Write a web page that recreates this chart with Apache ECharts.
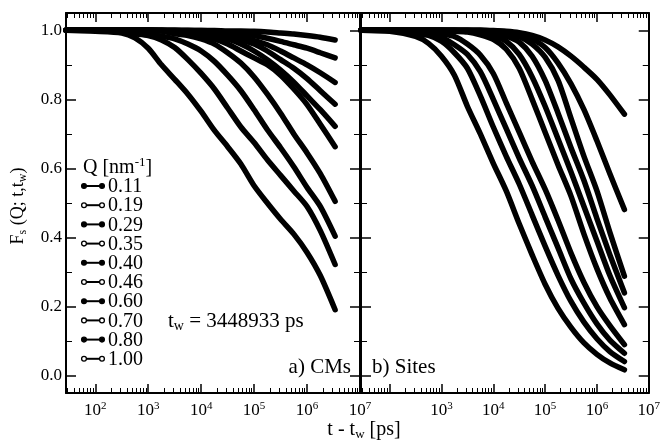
<!DOCTYPE html>
<html><head><meta charset="utf-8">
<script src="https://cdn.jsdelivr.net/npm/echarts@6/dist/echarts.min.js"></script>
<style>html,body{margin:0;padding:0;background:#fff}#c{width:663px;height:440px}</style>
</head><body><div id="c"></div>
<script>
// sampling times t - t_w [ps]
const tPs = [28, 100, 316, 562, 1000, 1778, 3162, 5623, 10000, 17783, 31623, 56234, 100000, 177828, 316228, 562341, 1000000, 1778279, 3388442];
const qLabels = ['0.11', '0.19', '0.29', '0.35', '0.40', '0.46', '0.60', '0.70', '0.80', '1.00'];
const qFilled = [true, false, true, false, true, false, true, false, true, false];

// a) CMs
const cm011 = [1, 1, 1, 1, 1, 1, 1, 1, 0.999, 0.999, 0.998, 0.998, 0.997, 0.995, 0.992, 0.989, 0.985, 0.98, 0.972];
const cm019 = [1, 1, 1, 1, 1, 1, 1, 0.999, 0.999, 0.998, 0.995, 0.99, 0.985, 0.977, 0.968, 0.958, 0.948, 0.935, 0.92];
const cm029 = [1, 1, 1, 1, 1, 1, 0.999, 0.998, 0.997, 0.994, 0.99, 0.98, 0.97, 0.958, 0.94, 0.92, 0.9, 0.877, 0.849];
const cm035 = [1, 1, 1, 1, 1, 0.999, 0.998, 0.997, 0.995, 0.99, 0.985, 0.973, 0.96, 0.94, 0.915, 0.89, 0.86, 0.825, 0.786];
const cm040 = [1, 1, 1, 1, 1, 0.999, 0.998, 0.995, 0.99, 0.983, 0.975, 0.96, 0.94, 0.915, 0.885, 0.85, 0.81, 0.77, 0.722];
const cm046 = [1, 1, 1, 1, 1, 0.998, 0.995, 0.99, 0.985, 0.975, 0.96, 0.94, 0.92, 0.9, 0.87, 0.83, 0.785, 0.728, 0.663];
const cm060 = [1, 1, 1, 1, 1, 0.998, 0.99, 0.985, 0.975, 0.96, 0.935, 0.905, 0.865, 0.815, 0.76, 0.7, 0.645, 0.585, 0.505];
const cm070 = [1, 1, 0.997, 0.995, 0.99, 0.983, 0.975, 0.96, 0.94, 0.91, 0.87, 0.825, 0.77, 0.712, 0.66, 0.605, 0.545, 0.49, 0.404];
const cm080 = [1, 0.999, 0.995, 0.99, 0.985, 0.972, 0.95, 0.915, 0.875, 0.83, 0.775, 0.72, 0.675, 0.625, 0.58, 0.535, 0.49, 0.42, 0.322];
const cm100 = [1, 0.997, 0.992, 0.978, 0.948, 0.9, 0.858, 0.815, 0.765, 0.71, 0.663, 0.613, 0.55, 0.5, 0.453, 0.41, 0.357, 0.29, 0.191];

// b) Sites
const st011 = [1, 1, 1, 1, 1, 1, 1, 1, 0.999, 0.997, 0.993, 0.985, 0.972, 0.952, 0.925, 0.893, 0.858, 0.813, 0.757];
const st019 = [1, 1, 1, 1, 1, 1, 1, 0.999, 0.998, 0.995, 0.99, 0.975, 0.95, 0.905, 0.845, 0.77, 0.68, 0.585, 0.481];
const st029 = [1, 1, 1, 1, 1, 1, 1, 1, 0.998, 0.993, 0.982, 0.96, 0.922, 0.855, 0.745, 0.635, 0.535, 0.415, 0.288];
const st035 = [1, 1, 1, 1, 1, 1, 0.999, 0.998, 0.994, 0.984, 0.966, 0.925, 0.855, 0.76, 0.66, 0.565, 0.455, 0.35, 0.24];
const st040 = [1, 1, 1, 1, 1, 0.999, 0.998, 0.995, 0.986, 0.968, 0.93, 0.865, 0.78, 0.685, 0.59, 0.49, 0.39, 0.29, 0.197];
const st046 = [1, 1, 1, 1, 0.999, 0.997, 0.995, 0.987, 0.974, 0.945, 0.89, 0.8, 0.705, 0.61, 0.52, 0.41, 0.31, 0.225, 0.148];
const st060 = [1, 1, 0.998, 0.997, 0.99, 0.982, 0.96, 0.928, 0.875, 0.79, 0.705, 0.62, 0.54, 0.45, 0.355, 0.27, 0.2, 0.145, 0.09];
const st070 = [1, 1, 0.996, 0.991, 0.98, 0.958, 0.93, 0.88, 0.8, 0.715, 0.63, 0.55, 0.46, 0.37, 0.28, 0.21, 0.15, 0.103, 0.065];
const st080 = [1, 0.999, 0.99, 0.985, 0.968, 0.935, 0.89, 0.81, 0.72, 0.635, 0.555, 0.465, 0.375, 0.29, 0.215, 0.155, 0.107, 0.07, 0.041];
const st100 = [1, 0.997, 0.982, 0.962, 0.925, 0.87, 0.78, 0.7, 0.615, 0.535, 0.44, 0.35, 0.265, 0.195, 0.14, 0.095, 0.062, 0.037, 0.017];

const xMin = 28, xMax = 1e7;
const yMin = -0.05, yMax = 1.05;

const cmSets = [cm011, cm019, cm029, cm035, cm040, cm046, cm060, cm070, cm080, cm100];
const stSets = [st011, st019, st029, st035, st040, st046, st060, st070, st080, st100];

const FONT = 'Liberation Serif';
const chart = echarts.init(document.getElementById('c'), null, {renderer: 'canvas'});

function xLabelFmt(hidden) {
  return function (v) {
    const e = Math.log10(v);
    const r = Math.round(e);
    if (Math.abs(e - r) > 1e-6) return '';
    if (hidden.indexOf(r) >= 0) return '';
    return '{b|10}{s|' + r + '}';
  };
}
const xRich = {
  b: {fontFamily: FONT, fontSize: 17, color: '#000'},
  s: {fontFamily: FONT, fontSize: 11, color: '#000', padding: [0, 0, 9, 0]}
};
function xAxisCfg(grid, pos, hidden) {
  return {
    type: 'log', logBase: 10, gridIndex: grid, position: pos, min: xMin, max: xMax,
    axisLine: {show: true, onZero: false, lineStyle: {color: '#000', width: 2}},
    axisTick: {show: true, inside: true, length: 9, lineStyle: {color: '#000', width: 1.5}},
    minorTick: {show: true, splitNumber: 9, length: 5, lineStyle: {color: '#000', width: 1}},
    splitLine: {show: false}, minorSplitLine: {show: false},
    axisLabel: pos === 'bottom' ? {show: true, margin: 8, formatter: xLabelFmt(hidden), rich: xRich} : {show: false}
  };
}
function yAxisCfg(grid, pos, labels) {
  return {
    type: 'value', gridIndex: grid, position: pos, min: yMin, max: yMax,
    axisLine: {show: true, onZero: false, lineStyle: {color: '#000', width: 2}},
    axisTick: {show: true, inside: true, length: 10, lineStyle: {color: '#000', width: 1.5}},
    minorTick: {show: true, splitNumber: 2, length: 6, lineStyle: {color: '#000', width: 1}},
    splitLine: {show: false},
    axisLabel: labels ? {show: true, margin: 4, showMinLabel: false, showMaxLabel: false,
      fontFamily: FONT, fontSize: 17, color: '#000', formatter: v => v.toFixed(1)} : {show: false}
  };
}

const series = [];
function addSeries(sets, xi, yi) {
  sets.forEach((vals, k) => {
    series.push({
      type: 'line', name: qLabels[k], xAxisIndex: xi, yAxisIndex: yi,
      data: tPs.map((t, i) => [t, vals[i]]),
      showSymbol: false, symbol: 'none', smooth: 0.25,
      lineStyle: {color: '#000', width: 5.5, join: 'round', cap: 'round'}, silent: true, animation: false, z: 2
    });
  });
}
addSeries(cmSets, 0, 0);
addSeries(stSets, 2, 2);

// legend drawn as graphic elements from qLabels
const graphics = [];
qLabels.forEach((q, i) => {
  const y = 186 + 19.2 * i;
  graphics.push({type: 'line', shape: {x1: 84, y1: y, x2: 102, y2: y}, style: {stroke: '#000', lineWidth: 2}, z: 10});
  [84, 102].forEach(cx => graphics.push({type: 'circle', shape: {cx: cx, cy: y, r: 2.4},
    style: {fill: qFilled[i] ? '#000' : '#fff', stroke: '#000', lineWidth: 1.3}, z: 11}));
  graphics.push({type: 'text', x: 108, y: y + 1, style: {text: q, font: '20px "Liberation Serif"', fill: '#000', verticalAlign: 'middle'}, z: 10});
});
graphics.push({type: 'text', x: 83, y: 168, style: {
  text: '{a|Q [nm}{s|-1}{a|]}', verticalAlign: 'middle',
  rich: {a: {fontFamily: FONT, fontSize: 20, fill: '#000'}, s: {fontFamily: FONT, fontSize: 13, fill: '#000', padding: [0, 0, 10, 0]}}
}});
graphics.push({type: 'text', x: 168, y: 321, style: {
  text: '{a|t}{s|w}{a| = 3448933 ps}', verticalAlign: 'middle',
  rich: {a: {fontFamily: FONT, fontSize: 21, fill: '#000'}, s: {fontFamily: FONT, fontSize: 14, fill: '#000', padding: [11, 0, 0, 0]}}
}});
graphics.push({type: 'text', x: 351, y: 367, style: {text: 'a) CMs', font: '21px "Liberation Serif"', fill: '#000', align: 'right', verticalAlign: 'middle'}});
graphics.push({type: 'text', x: 372, y: 367, style: {text: 'b) Sites', font: '21px "Liberation Serif"', fill: '#000', align: 'left', verticalAlign: 'middle'}});
graphics.push({type: 'text', x: 18, y: 206, rotation: Math.PI / 2, style: {
  text: '{a|F}{s|s}{a| (Q; t,t}{s|w}{a|)}', align: 'center', verticalAlign: 'middle',
  rich: {a: {fontFamily: FONT, fontSize: 18, fill: '#000'}, s: {fontFamily: FONT, fontSize: 12, fill: '#000', padding: [10, 0, 0, 0]}}
}});
graphics.push({type: 'text', x: 364, y: 430, style: {
  text: '{a|t - t}{s|w}{a| [ps]}', align: 'center', verticalAlign: 'middle',
  rich: {a: {fontFamily: FONT, fontSize: 20, fill: '#000'}, s: {fontFamily: FONT, fontSize: 13, fill: '#000', padding: [10, 0, 0, 0]}}
}});

chart.setOption({
  backgroundColor: '#fff',
  animation: false,
  grid: [
    {left: 66, top: 13, width: 294, height: 380},
    {left: 361, top: 13, width: 294, height: 380}
  ],
  xAxis: [
    xAxisCfg(0, 'bottom', []), xAxisCfg(0, 'top', []),
    xAxisCfg(1, 'bottom', [2]), xAxisCfg(1, 'top', [])
  ],
  yAxis: [
    yAxisCfg(0, 'left', true), yAxisCfg(0, 'right', false),
    yAxisCfg(1, 'left', false), yAxisCfg(1, 'right', false)
  ],
  series: series,
  graphic: graphics
});
</script></body></html>
